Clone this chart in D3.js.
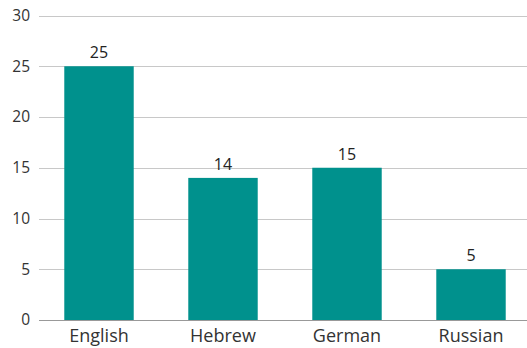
<!DOCTYPE html>
<html>
<head>
<meta charset="utf-8">
<script src="https://cdn.jsdelivr.net/npm/d3@7"></script>
<style>
  html, body { margin: 0; padding: 0; background: #fff; }
  svg { display: block; font-family: "Open Sans", "Noto Sans", sans-serif; }
</style>
</head>
<body>
<svg id="chart" width="527" height="348"></svg>
<script>
const categories = ["English", "Hebrew", "German", "Russian"];
const values = [25, 14, 15, 5];
const yTicks = [0, 5, 10, 15, 20, 25, 30];

const W = 527, H = 348;
const svg = d3.select("#chart");
const plotLeft = 39, plotRight = 527, y0 = 320, yTop = 15.5;

const x = d3.scaleBand().domain(categories).range([37, 533])
  .paddingInner(0.44).paddingOuter(0.22);
const y = d3.scaleLinear().domain([0, 30]).range([y0, yTop]);

// gridlines
svg.append("g").selectAll("line").data(yTicks.filter(d => d > 0)).join("line")
  .attr("x1", plotLeft).attr("x2", plotRight)
  .attr("y1", d => Math.round(y(d)) + 0.5).attr("y2", d => Math.round(y(d)) + 0.5)
  .attr("stroke", "#c8c8c8").attr("stroke-width", 1);

// y tick labels
svg.append("g").selectAll("text").data(yTicks).join("text")
  .attr("x", 30).attr("y", d => y(d))
  .attr("dy", "0.35em")
  .attr("text-anchor", "end")
  .attr("font-size", 15.5)
  .attr("fill", "#333")
  .text(d => d);

// bars
svg.append("g").selectAll("rect").data(values).join("rect")
  .attr("x", (d, i) => x(categories[i]))
  .attr("width", x.bandwidth())
  .attr("y", d => y(d))
  .attr("height", d => y0 - y(d))
  .attr("fill", "#00918D");

// axis line
svg.append("line")
  .attr("x1", plotLeft).attr("x2", plotRight)
  .attr("y1", y0 + 0.5).attr("y2", y0 + 0.5)
  .attr("stroke", "#999").attr("stroke-width", 1.2);

// value labels
svg.append("g").selectAll("text").data(values).join("text")
  .attr("x", (d, i) => x(categories[i]) + x.bandwidth() / 2)
  .attr("y", d => y(d) - 8)
  .attr("text-anchor", "middle")
  .attr("font-size", 16)
  .attr("fill", "#222")
  .text(d => d);

// category labels
svg.append("g").selectAll("text").data(categories).join("text")
  .attr("x", d => x(d) + x.bandwidth() / 2)
  .attr("y", 342)
  .attr("text-anchor", "middle")
  .attr("font-size", 18)
  .attr("fill", "#333")
  .text(d => d);
</script>
</body>
</html>
